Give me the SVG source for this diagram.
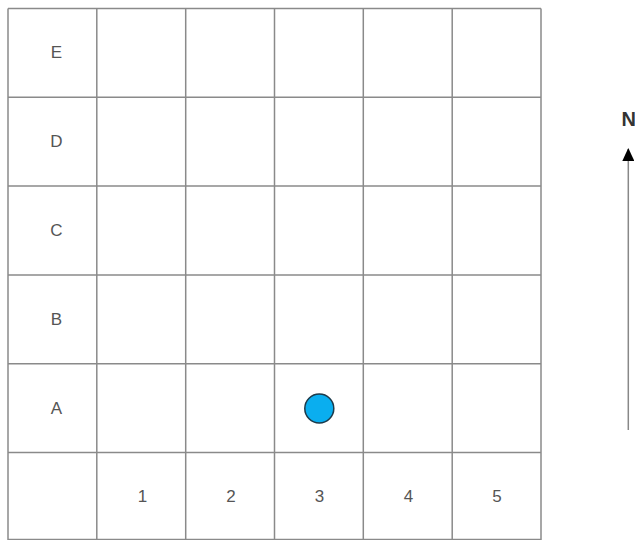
<svg xmlns="http://www.w3.org/2000/svg" width="635" height="540" viewBox="0 0 635 540">
<style>
.grid line{stroke:#8a8a8a;stroke-width:1.5}
.lbl{font-family:"Liberation Sans",Arial,sans-serif;font-size:17px;fill:#555;text-anchor:middle;dominant-baseline:central}
.n{font-family:"Liberation Sans",Arial,sans-serif;font-size:20px;font-weight:bold;fill:#333}
</style>
<defs>
<marker id="ah" markerWidth="13" markerHeight="12" refX="12" refY="6" orient="auto" markerUnits="userSpaceOnUse" viewBox="0 0 13 12">
<path d="M0,0 L13,6 L0,12 Z" fill="#000"/>
</marker>
</defs>
<g id="grid" class="grid">
<line x1="8" y1="8.5" x2="541" y2="8.5"/>
<line x1="8" y1="97.3" x2="541" y2="97.3"/>
<line x1="8" y1="186.1" x2="541" y2="186.1"/>
<line x1="8" y1="274.9" x2="541" y2="274.9"/>
<line x1="8" y1="363.7" x2="541" y2="363.7"/>
<line x1="8" y1="452.5" x2="541" y2="452.5"/>
<line x1="8" y1="539.5" x2="541" y2="539.5"/>
<line x1="8" y1="8.5" x2="8" y2="540"/>
<line x1="96.8" y1="8.5" x2="96.8" y2="540"/>
<line x1="185.7" y1="8.5" x2="185.7" y2="540"/>
<line x1="274.5" y1="8.5" x2="274.5" y2="540"/>
<line x1="363.3" y1="8.5" x2="363.3" y2="540"/>
<line x1="452.2" y1="8.5" x2="452.2" y2="540"/>
<line x1="541" y1="8.5" x2="541" y2="540"/>
</g>
<g id="rowlabels">
<text class="lbl" x="56.5" y="52.9">E</text>
<text class="lbl" x="56.5" y="141.7">D</text>
<text class="lbl" x="56.5" y="230.5">C</text>
<text class="lbl" x="56.5" y="319.3">B</text>
<text class="lbl" x="56.5" y="408.1">A</text>
</g>
<g id="collabels">
<text class="lbl" x="142.5" y="496.5">1</text>
<text class="lbl" x="231" y="496.5">2</text>
<text class="lbl" x="319.5" y="496.5">3</text>
<text class="lbl" x="408.5" y="496.5">4</text>
<text class="lbl" x="497" y="496.5">5</text>
</g>
<g id="marker-dot">
<circle cx="319.3" cy="408.5" r="14.5" fill="#0aaeef" stroke="#1c3a4a" stroke-width="1.5"/>
</g>
<g id="connectors">
<line x1="628.3" y1="430" x2="628.3" y2="149" stroke="#888" stroke-width="1.5" marker-end="url(#ah)"/>
</g>
<g id="north">
<text class="n" x="621.5" y="126">N</text>
</g>
</svg>
